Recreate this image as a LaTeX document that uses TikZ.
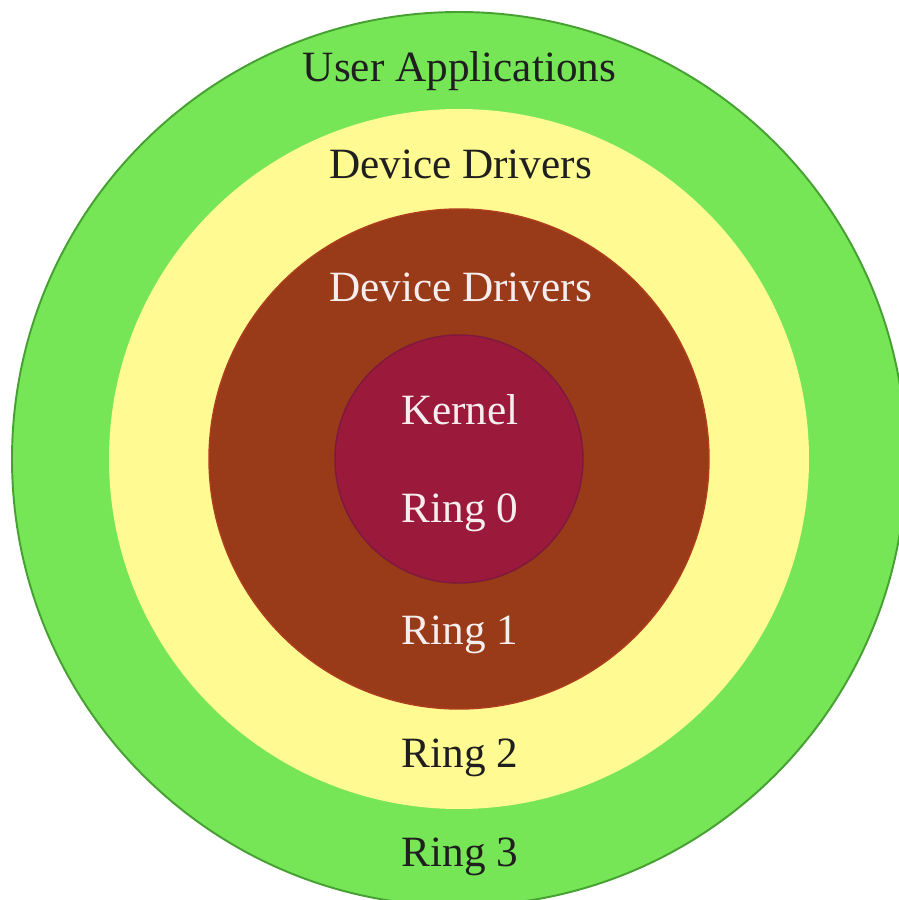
\documentclass[tikz,border=0pt]{standalone}
\usepackage{fontspec}
\setmainfont{Liberation Serif}

\definecolor{ringthree}{RGB}{118,230,86}
\definecolor{ringthreeline}{RGB}{70,160,50}
\definecolor{ringtwo}{RGB}{255,250,146}
\definecolor{ringone}{RGB}{153,58,24}
\definecolor{ringoneline}{RGB}{175,62,30}
\definecolor{ringzero}{RGB}{155,26,60}
\definecolor{ringzeroline}{RGB}{125,24,62}
\definecolor{lighttext}{RGB}{246,238,238}

\begin{document}
\begin{tikzpicture}[x=0.02cm,y=0.02cm]
\tikzstyle{every node}=[inner sep=0pt, anchor=base, font=\fontsize{24.6}{28}\selectfont]
\tikzstyle{dark}=[text=black!88]
\tikzstyle{light}=[text=lighttext]
\useasboundingbox (0,0) rectangle (899,900);
\fill[white] (0,0) rectangle (899,900);
% the four rings, outermost first
\begin{scope}
\clip (0,0) rectangle (899,900);
\coordinate (c) at (459,441);
\draw[fill=ringthree, draw=ringthreeline, line width=1.1pt] (c) circle (447);
\fill[ringtwo] (c) circle (350);
\draw[fill=ringone, draw=ringoneline, line width=0.8pt] (c) circle (250);
\draw[fill=ringzero, draw=ringzeroline, line width=0.8pt] (c) circle (124);
\end{scope}
% labels
\path (459.5,818) node (apps) [dark] {User Applications};
\path (460.5,721) node (drv2) [dark] {Device Drivers};
\path (460.5,598) node (drv1) [light] {Device Drivers};
\path (460,475) node (kern) [light] {Kernel};
\path (460,377) node (r0) [light] {Ring 0};
\path (460,255) node (r1) [light] {Ring 1};
\path (460,132) node (r2) [dark] {Ring 2};
\path (460,33) node (r3) [dark] {Ring 3};
\end{tikzpicture}
\end{document}
